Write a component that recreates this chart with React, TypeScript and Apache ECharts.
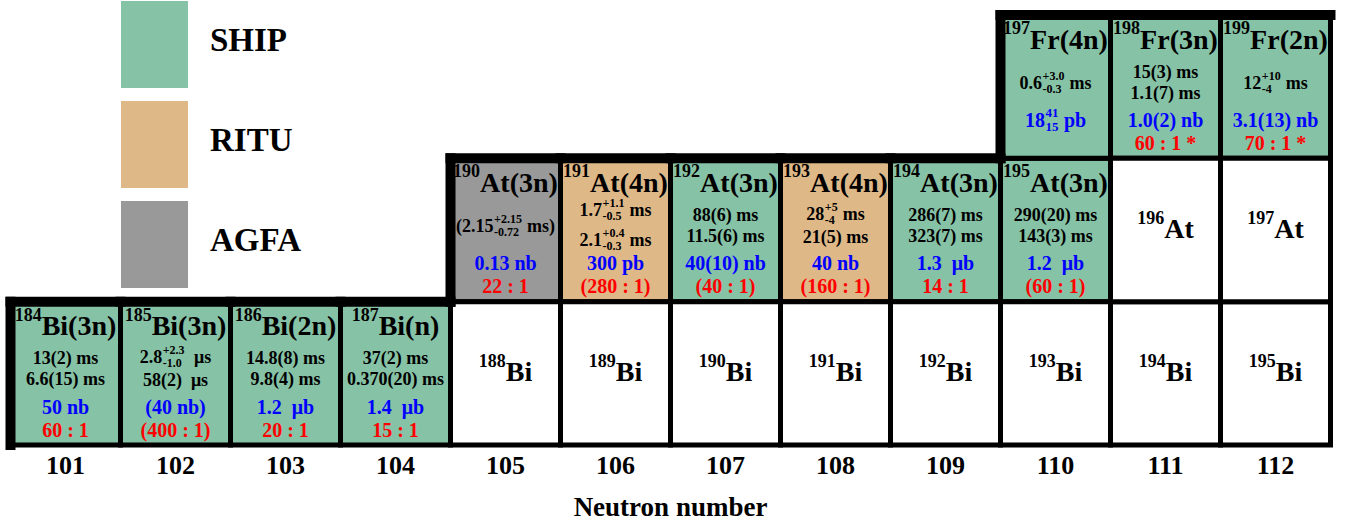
import React, { useEffect, useRef } from 'react';
import * as echarts from 'echarts';

// ---------- data ----------
const neutronNumbers = ['101', '102', '103', '104', '105', '106', '107', '108', '109', '110', '111', '112'];
const rowElements = ['Bi', 'At', 'Fr'];
const facilities = ['SHIP', 'RITU', 'AGFA'];
const facilityColors = ['#86C2A5', '#DEB887', '#999999'];

type Cell = {
  n: string;
  el: string;
  mass: string;
  channel: string;
  lab: string;
  halfLives: string[];
  xs: string;
  ratio: string;
};

const biMeasured: Cell[] = [
  { n: '101', el: 'Bi', mass: '184', channel: '3n', lab: 'SHIP', halfLives: ['13(2) ms', '6.6(15) ms'], xs: '50 nb', ratio: '60 : 1' },
  { n: '102', el: 'Bi', mass: '185', channel: '3n', lab: 'SHIP', halfLives: ['2.8^{+2.3}_{-1.0}  μs', '58(2)  μs'], xs: '(40 nb)', ratio: '(400 : 1)' },
  { n: '103', el: 'Bi', mass: '186', channel: '2n', lab: 'SHIP', halfLives: ['14.8(8) ms', '9.8(4) ms'], xs: '1.2  μb', ratio: '20 : 1' },
  { n: '104', el: 'Bi', mass: '187', channel: 'n', lab: 'SHIP', halfLives: ['37(2) ms', '0.370(20) ms'], xs: '1.4  μb', ratio: '15 : 1' },
];

const atMeasured: Cell[] = [
  { n: '105', el: 'At', mass: '190', channel: '3n', lab: 'AGFA', halfLives: ['(2.15^{+2.15}_{-0.72} ms)'], xs: '0.13 nb', ratio: '22 : 1' },
  { n: '106', el: 'At', mass: '191', channel: '4n', lab: 'RITU', halfLives: ['1.7^{+1.1}_{-0.5} ms', '2.1^{+0.4}_{-0.3} ms'], xs: '300 pb', ratio: '(280 : 1)' },
  { n: '107', el: 'At', mass: '192', channel: '3n', lab: 'SHIP', halfLives: ['88(6) ms', '11.5(6) ms'], xs: '40(10) nb', ratio: '(40 : 1)' },
  { n: '108', el: 'At', mass: '193', channel: '4n', lab: 'RITU', halfLives: ['28^{+5}_{-4} ms', '21(5) ms'], xs: '40 nb', ratio: '(160 : 1)' },
  { n: '109', el: 'At', mass: '194', channel: '3n', lab: 'SHIP', halfLives: ['286(7) ms', '323(7) ms'], xs: '1.3  μb', ratio: '14 : 1' },
  { n: '110', el: 'At', mass: '195', channel: '3n', lab: 'SHIP', halfLives: ['290(20) ms', '143(3) ms'], xs: '1.2  μb', ratio: '(60 : 1)' },
];

const frMeasured: Cell[] = [
  { n: '110', el: 'Fr', mass: '197', channel: '4n', lab: 'SHIP', halfLives: ['0.6^{+3.0}_{-0.3} ms'], xs: '18^{41}_{15} pb', ratio: '' },
  { n: '111', el: 'Fr', mass: '198', channel: '3n', lab: 'SHIP', halfLives: ['15(3) ms', '1.1(7) ms'], xs: '1.0(2) nb', ratio: '60 : 1 *' },
  { n: '112', el: 'Fr', mass: '199', channel: '2n', lab: 'SHIP', halfLives: ['12^{+10}_{-4} ms'], xs: '3.1(13) nb', ratio: '70 : 1 *' },
];

const unmeasured: { n: string; el: string; mass: string }[] = [
  { n: '105', el: 'Bi', mass: '188' },
  { n: '106', el: 'Bi', mass: '189' },
  { n: '107', el: 'Bi', mass: '190' },
  { n: '108', el: 'Bi', mass: '191' },
  { n: '109', el: 'Bi', mass: '192' },
  { n: '110', el: 'Bi', mass: '193' },
  { n: '111', el: 'Bi', mass: '194' },
  { n: '112', el: 'Bi', mass: '195' },
  { n: '111', el: 'At', mass: '196' },
  { n: '112', el: 'At', mass: '197' },
];

// ---------- helpers ----------
const FONT_FAMILY = '"Liberation Serif", "Times New Roman", serif';
const BLUE = '#0000FF';
const RED = '#FF0000';

let measureCtx: CanvasRenderingContext2D | null = null;
function fontOf(size: number) {
  return `bold ${size}px ${FONT_FAMILY}`;
}
function measure(text: string, size: number) {
  if (!measureCtx) measureCtx = document.createElement('canvas').getContext('2d');
  measureCtx!.font = fontOf(size);
  return measureCtx!.measureText(text).width;
}

type Seg = { kind: 'text'; text: string } | { kind: 'script'; sup: string; sub: string };
function parseMarkup(s: string): Seg[] {
  const re = /\^\{([^}]*)\}_\{([^}]*)\}/g;
  const out: Seg[] = [];
  let last = 0;
  let m: RegExpExecArray | null;
  while ((m = re.exec(s))) {
    if (m.index > last) out.push({ kind: 'text', text: s.slice(last, m.index) });
    out.push({ kind: 'script', sup: m[1], sub: m[2] });
    last = re.lastIndex;
  }
  if (last < s.length) out.push({ kind: 'text', text: s.slice(last) });
  return out;
}
function hasScript(s: string) {
  return /\^\{/.test(s);
}

function textEl(text: string, x: number, y: number, size: number, color: string) {
  return {
    type: 'text',
    x,
    y,
    z2: 10,
    style: { text, fill: color, font: fontOf(size), align: 'left', verticalAlign: 'middle' },
  };
}

function lineElements(s: string, cx: number, cy: number, size: number, color: string) {
  const segs = parseMarkup(s);
  const small = Math.round(size * 0.65);
  const widths = segs.map((g) =>
    g.kind === 'text' ? measure(g.text, size) : Math.max(measure(g.sup, small), measure(g.sub, small)) + 1
  );
  const total = widths.reduce((a, b) => a + b, 0);
  let x = cx - total / 2;
  const els: any[] = [];
  segs.forEach((g, i) => {
    if (g.kind === 'text') {
      const re = /\S+(?: \S+)*/g;
      let m: RegExpExecArray | null;
      while ((m = re.exec(g.text))) {
        els.push(textEl(m[0], x + measure(g.text.slice(0, m.index), size), cy, size, color));
      }
    } else {
      els.push(textEl(g.sup, x + 0.5, cy - size * 0.4, small, color));
      els.push(textEl(g.sub, x + 0.5, cy + size * 0.33, small, color));
    }
    x += widths[i];
  });
  return els;
}

function titleElements(mass: string, main: string, cx: number, cy: number) {
  const supSize = 18;
  const mainSize = 28;
  const ws = measure(mass, supSize);
  const wm = measure(main, mainSize);
  const x0 = cx - (ws + wm) / 2;
  return [textEl(mass, x0, cy - 11, supSize, '#000'), textEl(main, x0 + ws, cy, mainSize, '#000')];
}

const keyOf = (xi: number, yi: number) => `${xi}-${yi}`;
const occupied = new Set<string>(
  [...biMeasured, ...atMeasured, ...frMeasured, ...unmeasured].map((c) =>
    keyOf(neutronNumbers.indexOf(c.n), rowElements.indexOf(c.el))
  )
);

function outlineElements(xi: number, yi: number, left: number, top: number, w: number, h: number) {
  const els: any[] = [];
  const style = { stroke: '#000', lineWidth: 10, lineCap: 'square' };
  if (!occupied.has(keyOf(xi, yi + 1))) {
    els.push({ type: 'line', z2: 5, shape: { x1: left, y1: top, x2: left + w, y2: top }, style });
  }
  if (!occupied.has(keyOf(xi - 1, yi))) {
    els.push({ type: 'line', z2: 5, shape: { x1: left, y1: top, x2: left, y2: top + h }, style });
  }
  return els;
}

function cellFrame(api: any) {
  const xi = api.value(0) as number;
  const yi = api.value(1) as number;
  const [cx, cy] = api.coord([xi, yi]);
  const [w, h] = api.size([1, 1]) as number[];
  return { xi, yi, cx, cy, w, h, left: cx - w / 2, top: cy - h / 2 };
}

function measuredSeries(lab: string, color: string) {
  const cells = [...biMeasured, ...atMeasured, ...frMeasured].filter((c) => c.lab === lab);
  return {
    type: 'custom',
    name: lab,
    itemStyle: { color },
    data: cells.map((c) => [neutronNumbers.indexOf(c.n), rowElements.indexOf(c.el)]),
    renderItem: (params: any, api: any) => {
      const c = cells[params.dataIndex];
      const f = cellFrame(api);
      const children: any[] = [
        {
          type: 'rect',
          z2: 1,
          shape: { x: f.left, y: f.top, width: f.w, height: f.h },
          style: { fill: color, stroke: '#000', lineWidth: 5 },
        },
        ...outlineElements(f.xi, f.yi, f.left, f.top, f.w, f.h),
        ...titleElements(c.mass, `${c.el}(${c.channel})`, f.cx, f.top + 24),
      ];
      const hl = c.halfLives;
      if (hl.length === 2) {
        const s1 = hasScript(hl[0]);
        const s2 = hasScript(hl[1]);
        const gap = s1 && s2 ? 30 : s1 || s2 ? 23 : 21;
        const mid = f.top + 67;
        children.push(...lineElements(hl[0], f.cx, mid - gap / 2, 18, '#000'));
        children.push(...lineElements(hl[1], f.cx, mid + gap / 2, 18, '#000'));
      } else if (hl.length === 1) {
        children.push(...lineElements(hl[0], f.cx, f.top + 68, 18, '#000'));
      }
      if (c.xs) children.push(...lineElements(c.xs, f.cx, f.top + 105, 20, BLUE));
      if (c.ratio) children.push(...lineElements(c.ratio, f.cx, f.top + 128, 20, RED));
      return { type: 'group', children };
    },
  };
}

function unmeasuredSeries() {
  return {
    type: 'custom',
    name: 'unmeasured',
    itemStyle: { color: '#FFFFFF' },
    data: unmeasured.map((c) => [neutronNumbers.indexOf(c.n), rowElements.indexOf(c.el)]),
    renderItem: (params: any, api: any) => {
      const c = unmeasured[params.dataIndex];
      const f = cellFrame(api);
      return {
        type: 'group',
        children: [
          {
            type: 'rect',
            z2: 1,
            shape: { x: f.left, y: f.top, width: f.w, height: f.h },
            style: { fill: '#FFFFFF', stroke: '#000', lineWidth: 5 },
          },
          ...outlineElements(f.xi, f.yi, f.left, f.top, f.w, f.h),
          ...titleElements(c.mass, c.el, f.cx, f.cy - 1.5),
        ],
      };
    },
  };
}

export default function App() {
  const ref = useRef<HTMLDivElement>(null);
  useEffect(() => {
    document.body.style.margin = '0';
    if (!ref.current) return;
    const chart = echarts.init(ref.current, undefined, { renderer: 'svg' });
    chart.setOption({
      animation: false,
      backgroundColor: '#FFFFFF',
      legend: {
        data: facilities,
        orient: 'vertical',
        left: 121,
        top: 1,
        padding: 0,
        itemWidth: 67,
        itemHeight: 87,
        itemGap: 13,
        icon: 'rect',
        selectedMode: false,
        itemStyle: { borderWidth: 0 },
        formatter: '{t|{name}}',
        textStyle: {
          color: '#000',
          fontSize: 33,
          fontWeight: 'bold',
          fontFamily: FONT_FAMILY,
          padding: [0, 0, 0, 17],
          rich: {
            t: {
              color: '#000',
              fontSize: 33,
              fontWeight: 'bold',
              fontFamily: FONT_FAMILY,
              padding: [0, 0, 10, 0],
            },
          },
        },
      },
      grid: { left: 10.5, right: 17.5, top: 15, bottom: 79 },
      xAxis: {
        type: 'category',
        data: neutronNumbers,
        axisLine: { show: false },
        axisTick: { show: false },
        splitLine: { show: false },
        axisLabel: { color: '#000', fontSize: 26, fontWeight: 'bold', fontFamily: FONT_FAMILY, margin: 7 },
        name: 'Neutron number',
        nameLocation: 'middle',
        nameGap: 48,
        nameTextStyle: { color: '#000', fontSize: 27, fontWeight: 'bold', fontFamily: FONT_FAMILY },
      },
      yAxis: { type: 'category', data: rowElements, show: false },
      series: [
        ...facilities.map((lab, i) => measuredSeries(lab, facilityColors[i])),
        unmeasuredSeries(),
      ],
    });
    return () => chart.dispose();
  }, []);
  return <div ref={ref} style={{ width: 1348, height: 525 }} />;
}
